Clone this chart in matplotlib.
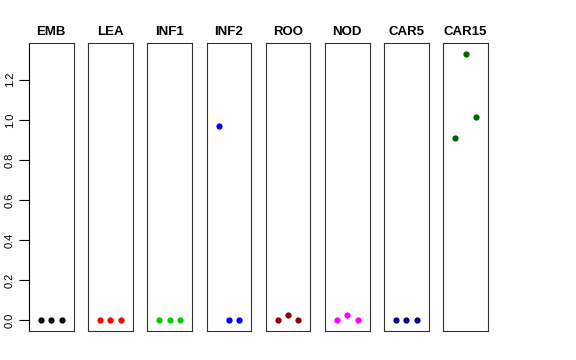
import matplotlib
matplotlib.use('Agg')
import matplotlib.pyplot as plt
import numpy as np

plt.rcParams['font.family'] = ['Liberation Sans', 'DejaVu Sans']

# one panel per tissue, three replicates each
tissues = ['EMB', 'LEA', 'INF1', 'INF2', 'ROO', 'NOD', 'CAR5', 'CAR15']
values = [
    [0.0, 0.0, 0.0],
    [0.0, 0.0, 0.0],
    [0.0, 0.0, 0.0],
    [0.97, 0.0, 0.0],
    [0.0, 0.025, 0.0],
    [0.0, 0.025, 0.0],
    [0.0, 0.0, 0.0],
    [0.91, 1.33, 1.015],
]
colors = ['black', 'red', '#00CD00', 'blue', '#8B0000', 'magenta', '#000080', '#006400']
yticks = [0.0, 0.2, 0.4, 0.6, 0.8, 1.0, 1.2]

W, H = 576, 360
fig = plt.figure(figsize=(W / 100, H / 100), dpi=100)

ymax = max(max(v) for v in values)
ylim = (-0.04 * ymax, 1.04 * ymax)
reps = np.arange(1, 4)

left0 = 29
pitch = 59.2
pw = 44.5
bottom = 29
ph = 288

for i, (name, vals, col) in enumerate(zip(tissues, values, colors)):
    ax = fig.add_axes([(left0 + i * pitch) / W, bottom / H, pw / W, ph / H])
    ax.plot(reps, vals, 'o', color=col, ms=4.5, mec='none')
    ax.set_xlim(-0.16, 4.16)
    ax.set_ylim(*ylim)
    ax.set_xticks([])
    ax.set_title(name, fontsize=9.5, fontweight='bold', pad=6)
    for s in ax.spines.values():
        s.set_linewidth(0.8)
        s.set_color('#333333')
    if i == 0:
        ax.set_yticks(yticks)
        ax.set_yticklabels(['%.1f' % t for t in yticks], rotation=90, va='center', fontsize=8)
        ax.tick_params(axis='y', length=7, width=0.8, pad=3)
        ax.spines['left'].set_color('black')
    else:
        ax.set_yticks([])

fig.savefig('out.png', dpi=100)
